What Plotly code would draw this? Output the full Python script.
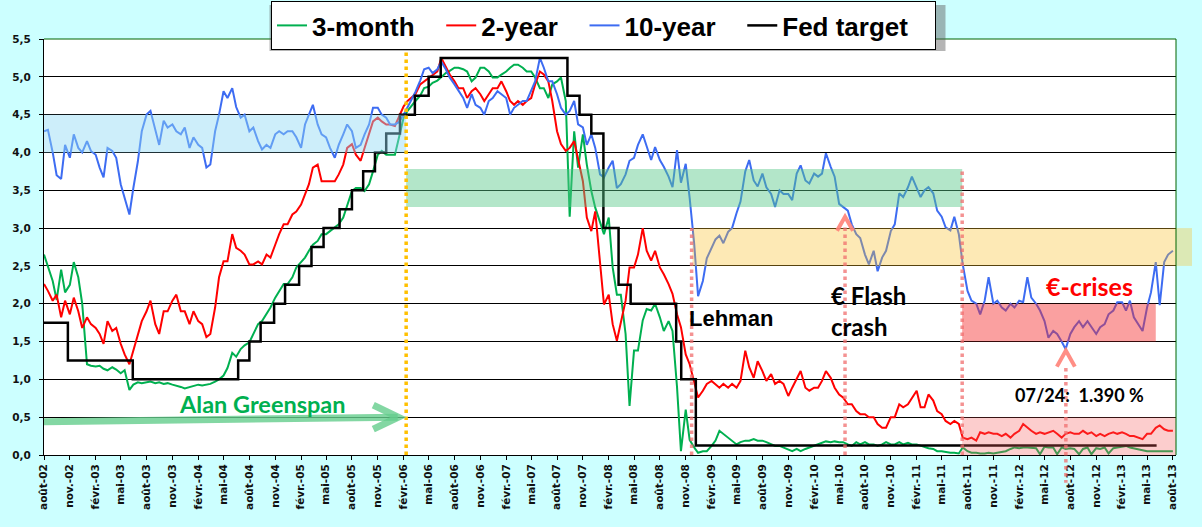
import pandas as pd
import plotly.graph_objects as go

# ---- data: one value on the 1st and 15th of each month ----
START = "2002-08-01"
END = "2013-08-01"

THREE_MONTH = [
    2.65, 2.50, 2.30, 2.05, 2.45, 2.15, 2.25, 2.55, 2.35, 2.00, 1.20, 1.18, 1.17, 1.18, 1.14, 1.12, 1.16, 1.13, 1.08, 1.12, 0.86, 0.93, 0.96, 0.95,
    0.96, 0.97, 0.95, 0.96, 0.94, 0.95, 0.93, 0.92, 0.90, 0.88, 0.90, 0.92, 0.93, 0.92, 0.93, 0.94, 0.97, 1.00, 1.05, 1.15, 1.35, 1.30, 1.40, 1.45,
    1.49, 1.60, 1.73, 1.77, 1.86, 1.95, 2.08, 2.17, 2.26, 2.26, 2.35, 2.48, 2.56, 2.61, 2.70, 2.78, 2.83, 2.92, 2.92, 2.96, 3.00, 3.05, 3.14, 3.31,
    3.49, 3.53, 3.53, 3.49, 3.58, 3.75, 3.97, 4.02, 3.97, 3.97, 3.97, 4.19, 4.46, 4.55, 4.62, 4.68, 4.75, 4.85, 4.87, 4.92, 4.95, 5.00, 5.05, 5.08,
    5.12, 5.12, 5.10, 5.07, 4.94, 4.99, 5.12, 5.12, 5.07, 4.99, 4.99, 5.03, 5.07, 5.12, 5.16, 5.16, 5.12, 5.07, 5.07, 4.99, 4.85, 4.85, 4.72, 4.90,
    4.94, 4.99, 4.68, 3.15, 4.28, 3.80, 4.24, 3.84, 3.49, 3.27, 3.09, 2.92, 3.14, 2.48, 2.12, 2.12, 1.60, 0.65, 1.38, 1.38, 1.78, 1.93, 1.91, 2.00,
    1.82, 1.64, 1.77, 1.64, 0.90, 0.05, 0.60, 0.20, 0.10, 0.03, 0.05, 0.05, 0.12, 0.19, 0.32, 0.28, 0.23, 0.19, 0.14, 0.17, 0.19, 0.19, 0.21, 0.19,
    0.19, 0.17, 0.14, 0.12, 0.12, 0.10, 0.08, 0.05, 0.08, 0.05, 0.08, 0.10, 0.12, 0.14, 0.17, 0.18, 0.17, 0.18, 0.17, 0.17, 0.14, 0.12, 0.17, 0.14,
    0.17, 0.14, 0.14, 0.12, 0.14, 0.17, 0.14, 0.14, 0.17, 0.14, 0.16, 0.14, 0.14, 0.12, 0.11, 0.09, 0.08, 0.05, 0.05, 0.04, 0.03, 0.03, 0.02, 0.10,
    0.05, 0.03, 0.03, 0.02, 0.02, 0.03, 0.02, 0.03, 0.04, 0.05, 0.08, 0.10, 0.09, 0.10, 0.10, 0.10, 0.09, 0.01, 0.11, 0.10, 0.10, 0.01, 0.10, 0.08,
    0.09, 0.08, 0.01, 0.08, 0.10, 0.01, 0.09, 0.08, 0.10, 0.02, 0.09, 0.10, 0.11, 0.12, 0.10, 0.09, 0.08, 0.06, 0.05, 0.05, 0.05, 0.05, 0.05, 0.05,
    0.05,
]

TWO_YEAR = [
    2.26, 2.17, 2.04, 2.12, 1.82, 2.04, 1.86, 2.08, 1.90, 1.68, 1.82, 1.73, 1.68, 1.60, 1.47, 1.77, 1.64, 1.68, 1.47, 1.33, 1.20, 1.38, 1.56, 1.77,
    1.90, 2.04, 1.73, 1.60, 1.90, 1.90, 2.04, 2.12, 1.90, 1.90, 1.73, 1.90, 1.77, 1.73, 1.56, 1.60, 1.95, 2.35, 2.56, 2.56, 2.92, 2.74, 2.70, 2.65,
    2.52, 2.52, 2.56, 2.52, 2.65, 2.61, 2.78, 2.92, 3.05, 3.05, 3.18, 3.22, 3.31, 3.44, 3.58, 3.80, 3.84, 3.62, 3.62, 3.62, 3.62, 3.71, 3.84, 4.06,
    4.11, 3.97, 3.89, 4.06, 4.24, 4.41, 4.46, 4.41, 4.37, 4.37, 4.35, 4.46, 4.61, 4.68, 4.72, 4.77, 4.90, 4.94, 4.99, 5.03, 5.07, 5.25, 5.12, 5.03,
    4.94, 4.85, 4.85, 4.72, 4.81, 4.85, 4.77, 4.68, 4.77, 4.85, 4.85, 4.94, 4.81, 4.68, 4.63, 4.68, 4.63, 4.68, 4.72, 4.90, 5.07, 5.03, 4.94, 4.68,
    4.28, 4.11, 4.02, 4.06, 4.15, 3.93, 3.62, 3.14, 2.96, 3.22, 2.56, 1.99, 2.12, 1.73, 1.51, 1.77, 2.04, 2.48, 2.48, 2.65, 3.00, 2.70, 2.57, 2.70,
    2.48, 2.39, 2.26, 2.13, 1.86, 1.69, 1.33, 1.20, 0.98, 0.76, 0.85, 0.94, 0.98, 0.94, 0.89, 0.94, 0.89, 0.94, 0.89, 0.98, 1.38, 1.16, 1.02, 1.24,
    1.11, 0.98, 1.07, 0.94, 0.98, 0.94, 0.78, 0.89, 1.02, 1.11, 0.89, 0.85, 0.89, 0.89, 0.98, 1.11, 1.02, 0.89, 0.80, 0.76, 0.67, 0.67, 0.58, 0.54,
    0.54, 0.50, 0.50, 0.41, 0.36, 0.36, 0.50, 0.50, 0.67, 0.63, 0.67, 0.76, 0.85, 0.63, 0.63, 0.80, 0.72, 0.58, 0.54, 0.45, 0.41, 0.45, 0.41, 0.23,
    0.21, 0.23, 0.19, 0.30, 0.28, 0.30, 0.28, 0.28, 0.25, 0.28, 0.23, 0.28, 0.32, 0.41, 0.36, 0.32, 0.28, 0.30, 0.28, 0.30, 0.32, 0.28, 0.23, 0.28,
    0.30, 0.28, 0.28, 0.32, 0.28, 0.30, 0.25, 0.28, 0.25, 0.28, 0.30, 0.28, 0.30, 0.28, 0.25, 0.25, 0.23, 0.21, 0.28, 0.28, 0.36, 0.39, 0.34, 0.32,
    0.32,
]

TEN_YEAR = [
    4.28, 4.30, 4.00, 3.70, 3.65, 4.10, 3.93, 4.24, 4.06, 4.00, 4.15, 4.02, 3.97, 3.80, 3.67, 4.06, 4.02, 3.93, 3.58, 3.40, 3.18, 3.53, 3.88, 4.28,
    4.50, 4.55, 4.28, 4.10, 4.42, 4.33, 4.37, 4.28, 4.24, 4.33, 4.06, 4.20, 4.10, 4.06, 3.80, 3.84, 4.28, 4.50, 4.81, 4.72, 4.85, 4.60, 4.46, 4.50,
    4.28, 4.33, 4.15, 4.04, 4.10, 4.06, 4.24, 4.28, 4.24, 4.28, 4.28, 4.20, 4.06, 4.37, 4.50, 4.63, 4.37, 4.24, 4.20, 4.06, 3.93, 4.10, 4.24, 4.37,
    4.28, 4.06, 4.10, 4.24, 4.37, 4.59, 4.59, 4.50, 4.46, 4.37, 4.37, 4.40, 4.50, 4.60, 4.72, 4.80, 4.95, 5.10, 5.12, 5.05, 5.10, 5.20, 5.10, 4.99,
    4.90, 4.81, 4.72, 4.59, 4.77, 4.63, 4.59, 4.50, 4.68, 4.72, 4.81, 4.77, 4.72, 4.50, 4.59, 4.63, 4.68, 4.68, 4.81, 4.94, 5.25, 5.12, 4.94, 4.94,
    4.77, 4.59, 4.50, 4.55, 4.68, 4.37, 4.33, 4.10, 4.24, 4.06, 3.71, 3.67, 3.80, 3.89, 3.53, 3.58, 3.71, 3.89, 3.93, 4.10, 4.24, 4.07, 3.90, 4.07,
    3.90, 3.81, 3.68, 3.54, 4.03, 3.60, 3.85, 3.40, 2.80, 2.10, 2.30, 2.60, 2.75, 2.85, 2.90, 2.80, 2.95, 3.00, 3.20, 3.35, 3.75, 3.90, 3.63, 3.55,
    3.72, 3.54, 3.45, 3.28, 3.50, 3.45, 3.45, 3.37, 3.72, 3.83, 3.63, 3.59, 3.72, 3.68, 3.72, 3.99, 3.81, 3.68, 3.32, 3.28, 3.23, 3.05, 2.92, 2.87,
    2.65, 2.52, 2.70, 2.43, 2.61, 2.70, 2.96, 3.05, 3.46, 3.41, 3.54, 3.68, 3.54, 3.41, 3.50, 3.54, 3.46, 3.23, 3.15, 3.01, 2.97, 3.15, 2.92, 2.52,
    2.17, 2.04, 2.00, 1.86, 2.04, 2.35, 2.00, 2.04, 1.95, 1.91, 2.00, 1.95, 2.04, 2.02, 2.35, 2.08, 2.00, 1.91, 1.77, 1.55, 1.64, 1.60, 1.50, 1.40,
    1.60, 1.69, 1.77, 1.69, 1.77, 1.69, 1.60, 1.69, 1.73, 1.86, 1.91, 2.02, 2.02, 1.91, 2.04, 1.82, 1.73, 1.64, 1.95, 2.15, 2.55, 1.98, 2.55, 2.65,
    2.70,
]

FED_DATES = [
    "2002-08-01", "2002-10-25", "2003-06-13", "2004-06-22", "2004-08-01", "2004-09-10",
    "2004-10-28", "2004-12-06", "2005-01-25", "2005-03-10", "2005-04-22", "2005-06-18",
    "2005-08-01", "2005-09-10", "2005-10-22", "2005-12-01", "2006-01-19", "2006-03-13",
    "2006-05-01", "2006-06-13", "2007-09-07", "2007-10-20", "2007-12-01", "2008-01-13",
    "2008-03-07", "2008-04-19", "2008-09-28", "2008-10-16", "2008-12-07", "2013-06-04",
]
FED_RATES = [
    1.75, 1.25, 1.00, 1.25, 1.50, 1.75, 2.00, 2.25, 2.50, 2.75, 3.00, 3.25,
    3.50, 3.75, 4.00, 4.25, 4.50, 4.75, 5.00, 5.25, 4.75, 4.50, 4.25, 3.00,
    2.25, 2.00, 1.50, 1.00, 0.125, 0.125,
]

MONTH_FR = {8: "août", 11: "nov.", 2: "févr.", 5: "mai"}

# event markers on the chart
GREENSPAN_END = "2006-02-10"
LEHMAN = "2008-11-22"
FLASH_CRASH = "2010-05-22"
EURO_CRISIS = "2011-07-13"
LOW_2012 = "2012-07-16"

dates = pd.date_range(START, END, freq="SMS")
x_lo = pd.Timestamp(START)
x_hi = pd.Timestamp("2013-08-12")


def paper_x(d):
    return (pd.Timestamp(d) - x_lo) / (x_hi - x_lo)


pad = "\u00a0" * 3  # extra room after each legend entry
fig = go.Figure()
for name, vals, color in [
    ("3-month", THREE_MONTH, "#00b050"),
    ("2-year", TWO_YEAR, "#ff0000"),
    ("10-year", TEN_YEAR, "#3d6cf2"),
]:
    fig.add_trace(go.Scatter(x=dates[:len(vals)], y=vals, name=name + pad, mode="lines",
                             line=dict(color=color, width=2)))
fig.add_trace(go.Scatter(x=FED_DATES, y=FED_RATES, name="Fed target" + pad, mode="lines",
                         line=dict(color="black", width=2.5, shape="hv")))

# shaded ranges
bands = [
    (START, GREENSPAN_END, 4.0, 4.5, "rgba(144,218,244,0.45)"),
    (GREENSPAN_END, EURO_CRISIS, 3.28, 3.78, "rgba(86,199,135,0.45)"),
    ("2008-11-25", x_hi, 2.5, 3.0, "rgba(249,192,44,0.35)"),
    (EURO_CRISIS, "2013-06-01", 1.5, 2.0, "rgba(244,44,44,0.45)"),
    (EURO_CRISIS, x_hi, 0.0, 0.5, "rgba(245,88,88,0.3)"),
]
for x0, x1, y0, y1, col in bands:
    fig.add_shape(type="rect", xref="x", yref="y", x0=x0, x1=x1, y0=y0, y1=y1,
                  fillcolor=col, line_width=0, layer="above")
# orange band runs a little past the plot edge
fig.add_shape(type="rect", xref="paper", yref="paper", x0=1, x1=1 + 16 / 1132,
              y0=2.5 / 5.5, y1=3.0 / 5.5, fillcolor="rgba(249,192,44,0.35)",
              line_width=0, layer="above")

# dotted event lines
salmon = "rgba(240,110,110,0.75)"
for xd, ytop, col in [
    (GREENSPAN_END, 5.5, "#ffc000"),
    (LEHMAN, 3.0, salmon),
    (FLASH_CRASH, 3.05, salmon),
    (EURO_CRISIS, 3.75, salmon),
]:
    fig.add_shape(type="line", xref="x", yref="y", x0=xd, x1=xd, y0=0, y1=ytop,
                  line=dict(color=col, width=3.5, dash="dot"), layer="above")
fig.add_shape(type="line", xref="paper", yref="paper", x0=paper_x(LOW_2012), x1=paper_x(LOW_2012),
              y0=1.15 / 5.5, y1=-0.067, line=dict(color=salmon, width=3.5, dash="dot"), layer="above")

# arrow heads
for xd, yv, path in [
    (FLASH_CRASH, 3.15, "M -8,-14 L 0,0 L 8,-14"),
    (LOW_2012, 1.38, "M -9,-16 L 0,0 L 9,-16"),
]:
    fig.add_shape(type="path", xref="x", yref="y", xsizemode="pixel", ysizemode="pixel",
                  xanchor=xd, yanchor=yv, path=path,
                  line=dict(color="rgba(255,130,120,0.9)", width=4), layer="above")

# Greenspan arrow
green_arrow = "rgba(100,205,140,0.8)"
fig.add_shape(type="line", xref="x", yref="y", x0=START, y0=0.44, x1="2006-01-11", y1=0.5,
              line=dict(color=green_arrow, width=7), layer="above")
fig.add_shape(type="path", xref="x", yref="y", xsizemode="pixel", ysizemode="pixel",
              xanchor="2006-01-13", yanchor=0.5, path="M -25,12 L 0,0 L -25,-12",
              line=dict(color=green_arrow, width=7), layer="above")

# plot area border (top and right)
fig.add_shape(type="path", xref="paper", yref="paper", path="M 0,1 L 1,1 L 1,0",
              line=dict(color="#006400", width=1), layer="above")

# legend drop shadow (sits behind the legend box, offset down-right)
LEG_CX, LEG_W, LEG_TOP, LEG_H = 603.5, 676, 1, 46
fig.add_shape(type="rect", xref="paper", yref="paper",
              x0=(LEG_CX - LEG_W / 2 + 4 - 44) / 1132, x1=(LEG_CX + LEG_W / 2 + 4 - 44) / 1132,
              y0=1 - (LEG_TOP + LEG_H + 4 - 39) / 416, y1=1 - (LEG_TOP + 4 - 39) / 416,
              fillcolor="rgba(90,90,90,0.45)", line_width=0, layer="above")

texts = [
    ("Alan Greenspan", "2004-09-16", 0.67, "#00b050", "Lato", 23.5, "center"),
    ("Lehman", "2009-04-10", 1.80, "black", "Liberation Sans", 22, "center"),
    ("€ Flash<br>crash", "2010-03-25", 1.91, "black", "Lato", 24, "left"),
    ("€-crises", "2012-10-07", 2.24, "#ff0000", "Lato", 25, "center"),
    ("07/24:  1.390 %", "2012-09-04", 0.79, "black", "Lato", 18, "center"),
]
for txt, xd, yv, col, fam, size, anchor in texts:
    fig.add_annotation(x=xd, y=yv, xref="x", yref="y", text=txt, showarrow=False,
                       xanchor=anchor, yanchor="middle", align="left",
                       font=dict(family=fam, size=size, color=col, weight="bold"))

ticks = pd.date_range(START, END, freq="3MS")
labels = [f"{MONTH_FR[d.month]}-{d:%y}" for d in ticks]

tick_font = dict(family="DejaVu Sans", size=10.5, color="#111111", weight="bold")
fig.update_layout(
    width=1202,
    height=527,
    margin=dict(l=44, r=26, t=39, b=72, autoexpand=False),
    paper_bgcolor="#ccffff",
    plot_bgcolor="white",
    separators=", ",
    showlegend=True,
    legend=dict(
        orientation="h", x=(LEG_CX - 44) / 1132, xanchor="center", y=1 - LEG_TOP / 527,
        yref="container", yanchor="top", bgcolor="white", bordercolor="black", borderwidth=1,
        font=dict(family="Liberation Sans", size=26, color="black", weight="bold"),
        itemwidth=30, traceorder="normal",
    ),
    xaxis=dict(
        range=[x_lo, x_hi], tickvals=ticks, ticktext=labels, tickangle=-90,
        showgrid=False, showline=True, linecolor="black", ticks="outside",
        ticklen=4, tickcolor="black", tickfont=tick_font,
    ),
    yaxis=dict(
        range=[0, 5.5], dtick=0.5, tick0=0, tickformat=".1f", showgrid=True,
        gridcolor="black", gridwidth=1, zeroline=False, showline=True,
        linecolor="black", ticks="outside", ticklen=4, tickcolor="black",
        tickfont=tick_font, ticklabelstandoff=6,
    ),
)

fig.write_html("out.html", config={"displayModeBar": False},
               post_script="document.body.style.margin = '0';")
